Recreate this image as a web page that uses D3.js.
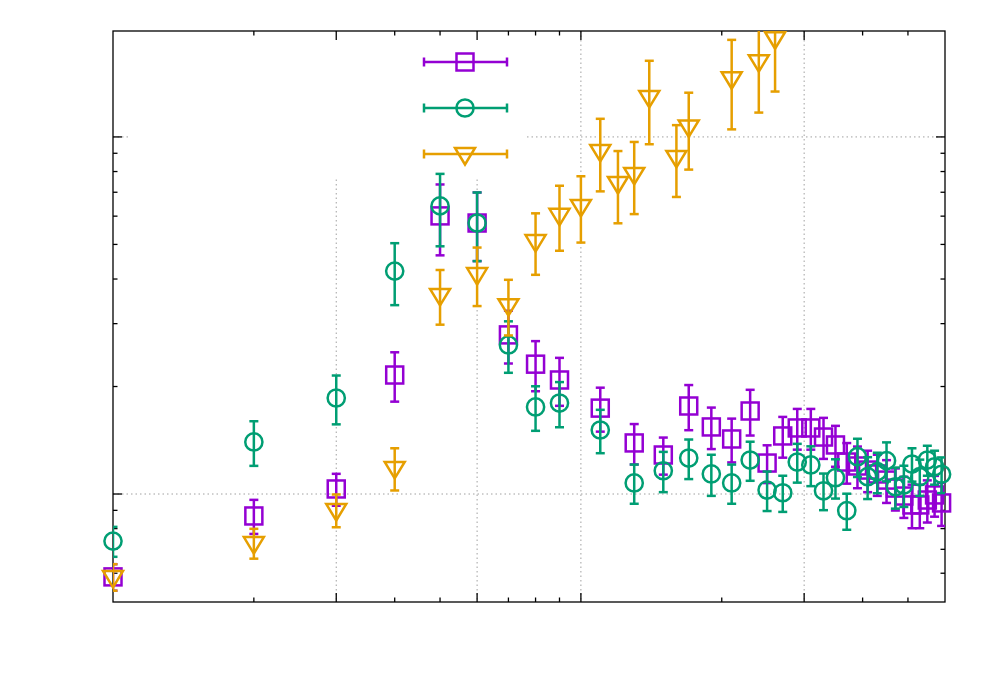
<!DOCTYPE html>
<head>
  <meta charset="utf-8">
  <script src="https://d3js.org/d3.v7.min.js"></script>
  <style>
    body {
      margin:0;
      background-color: white;
      font-family: sans-serif;
    }
  </style>
</head>

<body>
  <script>
    // x positions of the square and circle series
    var xSquareCircle = [1,2,3,4,5,6,7,8,9,11,13,15,17,19,21,23,25,27,29,31,33,35,37,39,41,43,45,47,49,51,53,55,57,59];
    var squareY   = [0.586,0.868,1.033,2.154,6.01,5.74,2.79,2.31,2.086,1.74,1.39,1.286,1.764,1.541,1.426,1.708,1.221,1.454,1.531,1.531,1.444,1.372,1.229,1.198,1.167,1.138,1.094,1.039,0.987,0.932,0.932,0.962,0.994,0.944];
    var squareErr = [0.05,0.095,0.106,0.34,1.35,1.25,0.47,0.37,0.32,0.245,0.18,0.153,0.255,0.205,0.2,0.25,0.148,0.19,0.2,0.2,0.19,0.18,0.16,0.16,0.155,0.15,0.15,0.14,0.13,0.13,0.13,0.13,0.13,0.13];
    var circleY   = [0.738,1.399,1.857,4.21,6.41,5.74,2.615,1.753,1.798,1.511,1.074,1.162,1.261,1.138,1.074,1.245,1.026,1.008,1.229,1.206,1.021,1.111,0.898,1.272,1.118,1.155,1.24,1.048,1.06,1.213,1.118,1.245,1.192,1.136];
    var circleErr = [0.071,0.2,0.29,0.83,1.47,1.25,0.43,0.25,0.26,0.21,0.135,0.15,0.16,0.15,0.135,0.156,0.13,0.117,0.153,0.154,0.12,0.14,0.104,0.156,0.15,0.15,0.155,0.138,0.14,0.13,0.13,0.12,0.13,0.13];

    // triangle series
    var xTriangle   = [1,2,3,4,5,6,7,8,9,10,11,12,13,14,16,17,21,24,26];
    var triangleY   = [0.586,0.729,0.902,1.183,3.61,4.13,3.38,5.11,6.05,6.41,9.14,7.43,7.88,12.94,8.79,10.7,14.6,16.3,18.9];
    var triangleErr = [0.05,0.07,0.095,0.16,0.63,0.77,0.6,1.0,1.25,1.35,2.1,1.7,1.8,3.4,2.0,2.6,4.1,4.6,5.5];

    // ticks (no labels in the figure)
    var xMajorTicks = [3,6,10,30];
    var xMinorTicks = [2,4,5,7,8,9,20,40,50];
    var yMajorTicks = [1,10];
    var yMinorTicks = [0.6,0.7,0.8,0.9,2,3,4,5,6,7,8,9];

    var W = 1000, H = 700;
    var pl = 113, pr = 945, pt = 31, pb = 602;
    var lw = 2.5;

    var svg = d3.select("body").append("svg")
      .attr("width", W)
      .attr("height", H)
      .style("background", "white");

    var x = d3.scaleLog().domain([1,60]).range([pl,pr]);
    var y = d3.scaleLog().domain([0.5,19.8]).range([601.5,pt]);

    // grid
    var grid = svg.append("g")
      .attr("stroke", "#a0a0a0")
      .attr("stroke-width", 1)
      .attr("stroke-dasharray", "1.5,3");
    grid.selectAll(".vg").data(xMajorTicks).enter().append("line")
      .attr("x1", function(d) {return x(d)}).attr("x2", function(d) {return x(d)})
      .attr("y1", pt).attr("y2", pb);
    grid.selectAll(".hg").data(yMajorTicks).enter().append("line")
      .attr("y1", function(d) {return y(d)}).attr("y2", function(d) {return y(d)})
      .attr("x1", pl).attr("x2", pr);

    // opaque key box (hides the grid behind it)
    svg.append("rect")
      .attr("x", 131).attr("y", pt + 1)
      .attr("width", 394).attr("height", 146)
      .attr("fill", "white");

    // border + ticks on all four sides
    var axes = svg.append("g").attr("stroke", "#000").attr("stroke-width", 1.3);
    function xticks(vals, len) {
      vals.forEach(function(v) {
        axes.append("line").attr("x1", x(v)).attr("x2", x(v)).attr("y1", pb).attr("y2", pb - len);
        axes.append("line").attr("x1", x(v)).attr("x2", x(v)).attr("y1", pt).attr("y2", pt + len);
      })
    }
    function yticks(vals, len) {
      vals.forEach(function(v) {
        axes.append("line").attr("y1", y(v)).attr("y2", y(v)).attr("x1", pl).attr("x2", pl + len);
        axes.append("line").attr("y1", y(v)).attr("y2", y(v)).attr("x1", pr).attr("x2", pr - len);
      })
    }
    xticks(xMajorTicks, 9); xticks(xMinorTicks, 4.5);
    yticks(yMajorTicks, 9); yticks(yMinorTicks, 4.5);
    axes.append("rect")
      .attr("x", pl).attr("y", pt)
      .attr("width", pr - pl).attr("height", pb - pt)
      .attr("fill", "none");

    svg.append("clipPath").attr("id", "plotclip")
      .append("rect").attr("x", pl).attr("y", pt)
      .attr("width", pr - pl).attr("height", pb - pt);

    var symbols = {
      square: function(g) {
        g.append("rect").attr("x", -8.5).attr("y", -8.5).attr("width", 17).attr("height", 17);
      },
      circle: function(g) {
        g.append("circle").attr("r", 8.6);
      },
      triangle: function(g) {
        g.append("path").attr("d", "M-10,-6L10,-6L0,10.5Z");
      }
    };

    var series = [
      {xs: xSquareCircle, ys: squareY, errs: squareErr, color: "#9400d3", sym: "square"},
      {xs: xSquareCircle, ys: circleY, errs: circleErr, color: "#009e73", sym: "circle"},
      {xs: xTriangle, ys: triangleY, errs: triangleErr, color: "#e69f00", sym: "triangle"}
    ];

    series.forEach(function(s) {
      var pts = s.xs.map(function(d, i) {return {x: d, y: s.ys[i], e: s.errs[i]}});
      var g = svg.append("g")
        .attr("stroke", s.color)
        .attr("stroke-width", lw)
        .attr("fill", "none");
      // error bars are clipped to the plot box, the symbols are not
      var bars = g.append("g").attr("clip-path", "url(#plotclip)")
        .selectAll(".bar").data(pts).enter().append("g")
        .attr("transform", function(d) {return "translate(" + x(d.x) + ",0)"});
      bars.append("line")
        .attr("y1", function(d) {return y(d.y - d.e)})
        .attr("y2", function(d) {return y(d.y + d.e)});
      bars.append("line").attr("x1", -4.5).attr("x2", 4.5)
        .attr("y1", function(d) {return y(d.y - d.e)}).attr("y2", function(d) {return y(d.y - d.e)});
      bars.append("line").attr("x1", -4.5).attr("x2", 4.5)
        .attr("y1", function(d) {return y(d.y + d.e)}).attr("y2", function(d) {return y(d.y + d.e)});
      g.selectAll(".pt").data(pts).enter().append("g")
        .attr("transform", function(d) {return "translate(" + x(d.x) + "," + y(d.y) + ")"})
        .each(function() {symbols[s.sym](d3.select(this))});
    });

    // key: samples only, no titles
    var key = svg.append("g").selectAll(".key").data(series).enter().append("g")
      .attr("transform", function(d, i) {return "translate(0," + (62 + i * 46) + ")"})
      .attr("stroke", function(d) {return d.color})
      .attr("stroke-width", lw)
      .attr("fill", "none");
    key.append("line").attr("x1", 424).attr("x2", 507);
    key.append("line").attr("x1", 424).attr("x2", 424).attr("y1", -4.5).attr("y2", 4.5);
    key.append("line").attr("x1", 507).attr("x2", 507).attr("y1", -4.5).attr("y2", 4.5);
    key.append("g").attr("transform", "translate(465,0)")
      .each(function(d) {symbols[d.sym](d3.select(this))});
  </script>
</body>
